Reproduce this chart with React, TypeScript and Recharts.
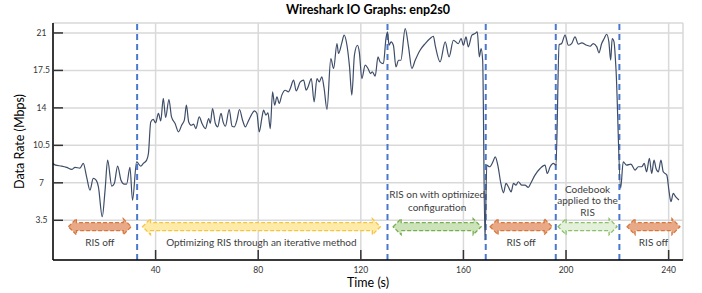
import React from 'react';
import { LineChart, Line, XAxis, YAxis, CartesianGrid, ReferenceLine, ReferenceArea } from 'recharts';

// ---- data ----
const times = [
  0, 1, 3.4, 5.3, 7.3, 8.6, 10.5, 11.8, 13.1, 14.4, 15.7, 16.8, 17.7, 19.2, 20.3, 21.3, 22.9, 23.9, 25.2, 26.5,
  27.8, 28.7, 30, 31, 32.6, 34.2, 35.2, 36.5, 37.2, 38.1, 39.1, 40, 41.1, 42, 43, 43.9, 45.2, 46.2, 47.6, 48.9,
  50.2, 51.2, 52, 52.9, 53.9, 54.8, 55.7, 57, 58.1, 59.4, 60.7, 61.3, 62.2, 63.3, 64.2, 65.5, 66.3, 67.2, 68.7, 69.8,
  70.7, 71.7, 72.7, 73.9, 75, 76, 77.3, 78.5, 79.5, 80.4, 81.5, 82.1, 83, 83.8, 84.7, 85.6, 86.4, 87.3, 88.2, 89.2,
  90.5, 91.8, 92.5, 93.8, 94.8, 96.4, 97.7, 98.7, 99.5, 100.7, 101.8, 102.9, 103.8, 104.8, 105.7, 106.8, 108.3, 109.4, 110.7, 111.3,
  112.6, 113.5, 114.6, 115.6, 116.5, 117.5, 118.7, 119.4, 120.4, 121.7, 122.8, 123.8, 124.5, 125.6, 126.7, 127.5, 128.8, 129.8, 130.4, 131,
  131.8, 132.7, 133.7, 134.7, 135.6, 137.3, 138.6, 139.9, 141.2, 143.1, 145.1, 147, 148.3, 149, 150.9, 152.9, 154.4, 156.1, 158, 159.1,
  160, 161, 161.9, 163.3, 164.5, 165.4, 166.2, 166.9, 167.5, 168.4, 169.1, 170.2, 171.5, 172.4, 173.4, 174.6, 175.6, 176.6, 177.5, 178.6,
  179.5, 180.5, 181.4, 182.7, 184, 185.3, 186.2, 187.9, 189.9, 191.8, 192.7, 193.8, 195.1, 196.1, 197.3, 198.3, 199.6, 200.9, 202.2, 203.5,
  204.8, 206.1, 208.1, 209.4, 210.6, 212, 212.8, 213.9, 214.9, 215.8, 216.7, 217.4, 218, 218.7, 219.5, 221.3, 222.3, 223.6, 225.3, 226.9,
  228.2, 229.5, 230.5, 231.4, 232.5, 233.4, 234.3, 235.1, 236, 237, 237.9, 239.3, 240.1, 240.9, 241.8, 242.7, 244,
];
const rates = [
  8.81, 8.65, 8.56, 8.44, 8.25, 8.44, 8.37, 8.81, 7.56, 6.32, 7.41, 7.25, 6.63, 3.83, 6.32, 9.12, 6.69, 6.94, 8.56, 7.25,
  6.88, 6.88, 8.44, 5.38, 8.96, 8.56, 8.81, 9.12, 9.74, 12.69, 12.92, 12.6, 13.48, 12.79, 14.88, 13.1, 14.78, 13.16, 12.54, 11.76,
  12.4, 12.85, 14.25, 12.69, 12.38, 12.48, 12.07, 13.16, 12.54, 12.07, 13.01, 12.54, 13.94, 12.54, 12.23, 13.48, 12.69, 12.29, 13.85, 12.29,
  12.23, 12.85, 13.85, 12.85, 12.23, 12.69, 13.32, 13.72, 13.48, 11.76, 13.16, 13.79, 13.32, 13.54, 12.07, 15.5, 14.25, 15.03, 14.41, 15.19,
  15.65, 15.5, 15.81, 16.59, 15.59, 16.43, 16.59, 15.65, 16.0, 16.74, 14.56, 16.74, 16.43, 16.9, 15.81, 13.85, 18.61, 17.68, 20.01, 19.08,
  20.07, 20.79, 19.85, 17.83, 15.19, 18.92, 19.85, 19.23, 16.74, 17.99, 17.68, 17.21, 17.37, 16.96, 18.77, 18.3, 18.14, 20.48, 21.1, 19.85,
  20.17, 19.85, 17.83, 18.45, 18.45, 21.41, 19.7, 17.68, 18.45, 19.39, 20.01, 20.48, 20.69, 19.85, 18.3, 20.17, 18.77, 20.32, 20.0, 20.48,
  19.85, 20.63, 19.7, 20.79, 20.94, 21.1, 18.77, 19.54, 18.45, 1.65, 8.65, 8.5, 8.96, 9.43, 8.65, 6.94, 6.07, 6.94, 6.63, 6.16,
  6.94, 6.79, 7.1, 6.79, 6.79, 6.57, 6.94, 7.72, 8.34, 8.65, 7.87, 8.5, 8.81, 8.65, 19.9, 20.01, 20.79, 19.85, 20.01, 20.63,
  19.95, 20.07, 19.85, 19.76, 20.01, 19.7, 19.14, 20.01, 20.48, 20.88, 20.17, 18.45, 20.48, 20.17, 17.52, 6.5, 8.96, 8.65, 8.75, 8.19,
  8.5, 8.5, 8.81, 8.03, 9.28, 7.87, 9.12, 8.34, 8.03, 9.12, 8.03, 7.72, 6.32, 5.23, 6.01, 5.7, 5.39,
];

const xTicks = [40, 80, 120, 160, 200, 240];
const yTicks = [3.5, 7, 10.5, 14, 17.5, 21];
const phaseBoundaries = [32.8, 130.4, 168.7, 196.0, 220.8];

const arrowStarts = [6.0, 34.9, 132.6, 170.4, 196.9, 223.8];
const arrowEnds = [30.5, 127.6, 166.9, 194.6, 219.9, 244.4];
const arrowKinds = ['off', 'opt', 'on', 'off', 'codebook', 'off'];
const arrowLabels = [
  ['RIS off'],
  ['Optimizing RIS through an iterative method'],
  ['RIS on with optimized', 'configuration'],
  ['RIS off'],
  ['Codebook', 'applied to the', 'RIS'],
  ['RIS off'],
];
const arrowLow = 2.15;
const arrowHigh = 3.65;

const data = times.map((t, i) => ({ t, rate: rates[i] }));

// ---- styles ----
const FONT = "Lato, 'Open Sans', sans-serif";
const arrowStyle: Record<string, any> = {
  off: { fill: '#EAA986', stroke: '#D5783F', above: false, gap: 15, lineH: 12 },
  opt: { fill: '#FFEBA8', stroke: '#F4C445', above: false, gap: 15, lineH: 12 },
  on: { fill: '#CCE3BA', stroke: '#76AE50', above: true, gap: 20, lineH: 12.4 },
  codebook: { fill: '#E3F0DA', stroke: '#8DBF6B', above: true, gap: 15, lineH: 11.4 },
};

const ArrowShape = (props: any) => {
  const { x, y, width, height, kind, lines } = props;
  const st = arrowStyle[kind];
  const cy = y + height / 2;
  const hh = height / 2;
  const bh = height / 4;
  const h = 8;
  const pts = [
    [x, cy], [x + h, cy - hh], [x + h, cy - bh], [x + width - h, cy - bh], [x + width - h, cy - hh],
    [x + width, cy], [x + width - h, cy + hh], [x + width - h, cy + bh], [x + h, cy + bh], [x + h, cy + hh],
  ].map((p) => p.join(',')).join(' ');
  const cx = x + width / 2;
  const n = lines.length;
  return (
    <g>
      <polygon points={pts} fill={st.fill} stroke={st.stroke} strokeWidth={1.3} strokeDasharray="4 2" />
      {lines.map((ln: string, i: number) => {
        const ty = st.above ? cy - st.gap - (n - 1 - i) * st.lineH : cy + st.gap + i * st.lineH;
        return (
          <text key={i} x={cx} y={ty} textAnchor="middle" dominantBaseline="central" fontSize={10} fill="#404040" fontFamily={FONT}>
            {ln}
          </text>
        );
      })}
    </g>
  );
};

const XTick = (props: any) => (
  <text x={props.x} y={props.y} textAnchor="middle" dominantBaseline="central" fontSize={8.5} fill="#333" fontFamily={FONT}>
    {props.payload.value}
  </text>
);
const YTick = (props: any) => (
  <text x={props.x} y={props.y} textAnchor="middle" dominantBaseline="central" fontSize={8.5} fill="#333" fontFamily={FONT}>
    {props.payload.value}
  </text>
);

export default function App() {
  return (
    <div style={{ position: 'absolute', left: 0, top: 0, width: 702, height: 293, background: '#fff', fontFamily: FONT }}>
      <div style={{ position: 'absolute', left: 0, top: 3, width: 736, textAlign: 'center', fontSize: 12.5, fontWeight: 700, lineHeight: '14px', color: '#000' }}>
        Wireshark IO Graphs: enp2s0
      </div>
      <LineChart width={702} height={293} data={data} margin={{ top: 23, right: 19, bottom: 0, left: 8 }}>
        <CartesianGrid stroke="#d9d9d9" strokeWidth={1.5} />
        <XAxis
          dataKey="t"
          type="number"
          domain={[0, 245.6]}
          ticks={xTicks}
          height={33}
          axisLine={{ stroke: '#000', strokeWidth: 1.5 }}
          tickLine={{ stroke: '#333', strokeWidth: 1.5 }}
          tickSize={-10}
          tickMargin={20}
          tick={<XTick />}
          label={{ value: 'Time (s)', position: 'insideBottom', offset: 6, fontSize: 12.5, fill: '#000', fontFamily: FONT }}
        />
        <YAxis
          type="number"
          domain={[-0.21, 21.93]}
          ticks={yTicks}
          width={45}
          axisLine={{ stroke: '#000', strokeWidth: 1.5 }}
          tickLine={{ stroke: '#333', strokeWidth: 1.5 }}
          tickSize={-10}
          tickMargin={21.5}
          tick={<YTick />}
          label={{ value: 'Data Rate (Mbps)', angle: -90, position: 'center', dx: -11, fontSize: 12.5, fill: '#000', fontFamily: FONT }}
        />
        {phaseBoundaries.map((b, i) => (
          <ReferenceLine key={'b' + i} x={b} stroke="#4A78CC" strokeWidth={2} strokeDasharray="6 4" />
        ))}
        {arrowStarts.map((s, i) => (
          <ReferenceArea
            key={'a' + i}
            x1={s}
            x2={arrowEnds[i]}
            y1={arrowLow}
            y2={arrowHigh}
            shape={(p: any) => <ArrowShape {...p} kind={arrowKinds[i]} lines={arrowLabels[i]} />}
          />
        ))}
        <Line type="monotone" dataKey="rate" stroke="#3E4D68" strokeWidth={1.2} dot={false} isAnimationActive={false} />
      </LineChart>
    </div>
  );
}
